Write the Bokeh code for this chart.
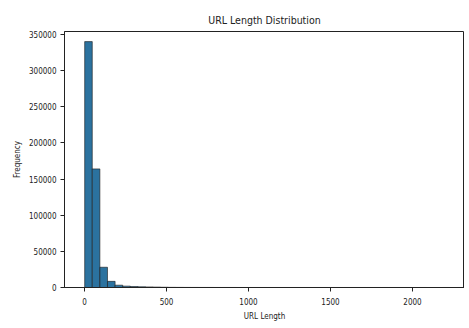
import numpy as np
from bokeh.plotting import figure
from bokeh.layouts import row, column
from bokeh.models import Range1d, FixedTicker, NumeralTickFormatter, Spacer
from bokeh.embed import file_html
from bokeh.resources import INLINE

# ---- data ----
length_min = 1
length_max = 2320
bin_count = 50
counts = [340000, 164000, 28000, 8500, 3200, 1900, 1300, 1000, 800, 600,
          350, 200, 150, 100, 80, 60, 50, 40, 30, 25,
          20, 15, 12, 10, 8, 6, 5, 4, 4, 3,
          3, 2, 2, 2, 1, 1, 1, 1, 1, 1,
          1, 1, 1, 0, 1, 0, 0, 1, 0, 1]
x_ticks = [0, 500, 1000, 1500, 2000]
y_ticks = [0, 50000, 100000, 150000, 200000, 250000, 300000, 350000]

edges = np.linspace(length_min, length_max, bin_count + 1)

FONT = "DejaVu Sans Condensed"

p = figure(frame_width=400, frame_height=256, output_backend="svg", toolbar_location=None,
           title="URL Length Distribution",
           x_range=Range1d(-122, 2317), y_range=Range1d(0, 354000),
           min_border_left=0, min_border_right=0, min_border_top=0, min_border_bottom=0)

p.quad(left=edges[:-1], right=edges[1:], bottom=0, top=counts,
       fill_color="#2b729f", line_color="#1a1a1a", line_width=0.6)

p.title.align = "center"
p.title.text_font = FONT
p.title.text_font_size = "10.5px"
p.title.text_font_style = "normal"
p.title.text_color = "#222222"
p.title.standoff = 11

p.xgrid.visible = False
p.ygrid.visible = False
p.outline_line_color = "#222222"
p.outline_line_width = 1

for ax in (p.xaxis[0], p.yaxis[0]):
    ax.major_label_text_font = FONT
    ax.major_label_text_font_size = "8px"
    ax.major_label_text_color = "#222222"
    ax.axis_label_text_font = FONT
    ax.axis_label_text_font_size = "8px"
    ax.axis_label_text_font_style = "normal"
    ax.axis_label_text_color = "#222222"
    ax.major_tick_out = 4
    ax.major_tick_in = 0
    ax.minor_tick_out = 0
    ax.minor_tick_in = 0
    ax.axis_line_color = "#222222"
    ax.major_tick_line_color = "#222222"

p.xaxis.ticker = FixedTicker(ticks=x_ticks)
p.yaxis.ticker = FixedTicker(ticks=y_ticks)
p.yaxis.formatter = NumeralTickFormatter(format="0")
p.xaxis.axis_label = "URL Length"
p.yaxis.axis_label = "Frequency"
p.xaxis.major_label_standoff = 6
p.xaxis.axis_label_standoff = 4
p.yaxis.major_label_standoff = 4
p.yaxis.axis_label_standoff = 4

layout = column(Spacer(height=6, width=10), row(Spacer(width=10, height=10), p))

open("out.html", "w").write(file_html(layout, INLINE))
